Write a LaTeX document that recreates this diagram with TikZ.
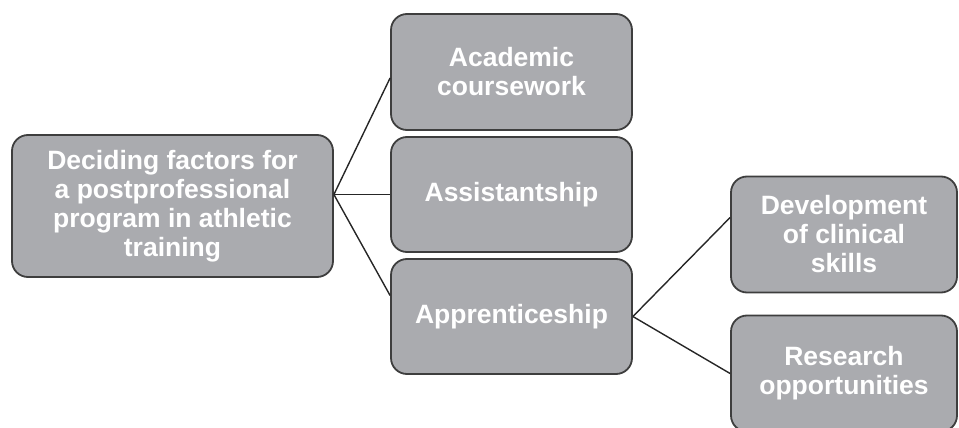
\documentclass[tikz,border=0pt]{standalone}
\usepackage{fontspec}
\setmainfont{Liberation Sans}
\usetikzlibrary{calc}
\definecolor{boxfill}{RGB}{170,171,175}
\definecolor{boxline}{RGB}{62,62,62}
\tikzset{
  factor/.style={rectangle, rounded corners=16pt, draw=boxline, line width=1.8pt,
    fill=boxfill, text=white, align=center, inner sep=0pt,
    font=\bfseries\fontsize{26.5}{29}\selectfont},
  link/.style={draw=black!85, line width=1.4pt}
}
\begin{document}
\begin{tikzpicture}[x=1pt,y=-1pt]
\useasboundingbox (0,0) rectangle (959,428);
\clip (0,0) rectangle (959,428);
% root
\node[factor, minimum width=321pt, minimum height=142pt] (L) at (172.5,206)
  {Deciding factors for\\a postprofessional\\program in athletic\\training};
% first level
\node[factor, minimum width=241pt, minimum height=116pt] (A) at (511.5,72)
  {Academic\\coursework};
\node[factor, minimum width=241pt, minimum height=115pt] (B) at (511.5,194.5)
  {Assistantship};
\node[factor, minimum width=241pt, minimum height=115pt] (C) at (511.5,316.5)
  {Apprenticeship};
% second level
\node[factor, minimum width=226pt, minimum height=116pt] (D) at (844,234.5)
  {Development\\of clinical\\skills};
\node[factor, minimum width=226pt, minimum height=116pt] (R) at (844,373.5)
  {Research\\opportunities};
% connectors
\coordinate (Lout) at (L.east |- B.west);
\coordinate (Ain) at ($(A.west)+(0,6)$);
\coordinate (Cin) at ($(C.west)+(0,-21)$);
\coordinate (Din) at ($(D.west)+(0,-17)$);
\draw[link] (Lout) -- (Ain);
\draw[link] (Lout) -- (B.west);
\draw[link] (Lout) -- (Cin);
\draw[link] (C.east) -- (Din);
\draw[link] (C.east) -- (R.west);
\end{tikzpicture}
\end{document}
